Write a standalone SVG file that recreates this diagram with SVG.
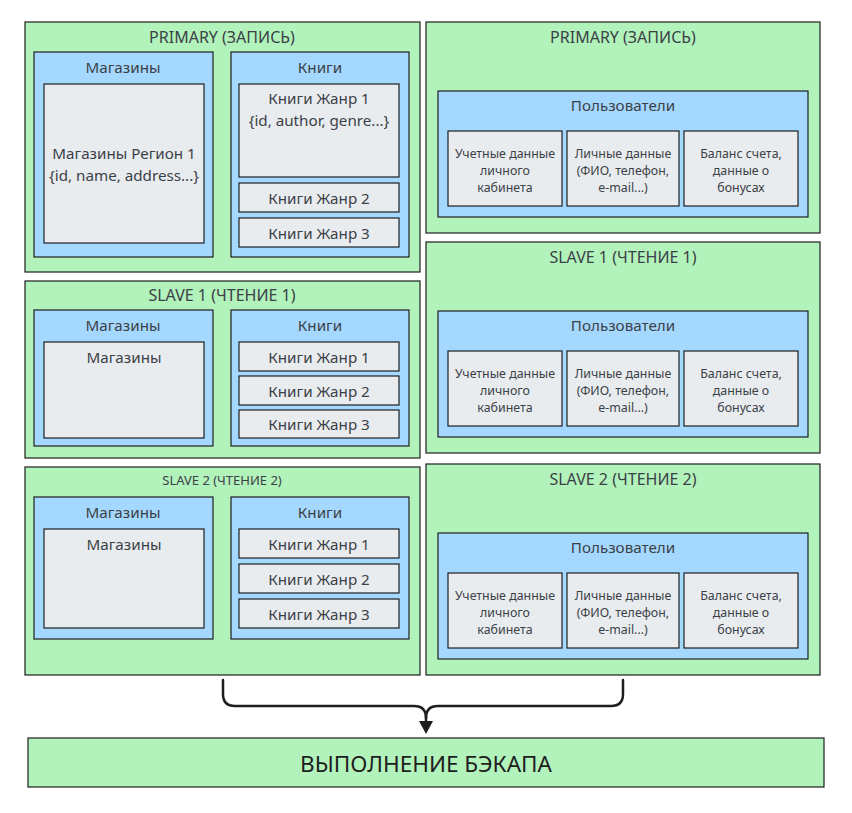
<svg xmlns="http://www.w3.org/2000/svg" width="852" height="813" viewBox="0 0 852 813">
<defs>
<style>
.g{fill:#b2f2bb;stroke:#1e1e1e;stroke-width:1.2}
.b{fill:#a5d8ff;stroke:#1e1e1e;stroke-width:1.2}
.c{fill:#e9ecef;stroke:#1e1e1e;stroke-width:1.2}
text{font-family:"Noto Sans","Open Sans",sans-serif;fill:#3b4147;text-anchor:middle;dominant-baseline:central}
.t16{font-size:16px}
.t14{font-size:15.2px}
.t13{font-size:13px}
.t11{font-size:12.4px}
.t20{font-size:22.5px;fill:#1e1e1e}
.con{fill:none;stroke:#1e1e1e;stroke-width:2.5;stroke-linecap:round;stroke-linejoin:round}
</style>
<marker id="ah" markerWidth="13" markerHeight="14" refX="1" refY="7" orient="auto" markerUnits="userSpaceOnUse" viewBox="0 0 13 14"><path d="M0,0 L13,7 L0,14 Z" fill="#1e1e1e"/></marker>
</defs>
<rect width="852" height="813" fill="#ffffff"/>

<!-- LEFT PRIMARY -->
<g id="left-primary">
<rect class="g" x="25" y="22" width="395" height="250"/>
<text class="t16" x="222" y="37">PRIMARY (ЗАПИСЬ)</text>
<g id="lp-shops">
<rect class="b" x="34" y="52" width="179" height="205"/>
<text class="t14" x="123" y="67">Магазины</text>
<rect class="c" x="44" y="84" width="160" height="159"/>
<text class="t14" x="124" y="153">Магазины Регион 1</text>
<text class="t14" x="124" y="175">{id, name, address...}</text>
</g>
<g id="lp-books">
<rect class="b" x="231" y="52" width="178" height="205"/>
<text class="t14" x="320" y="67">Книги</text>
<rect class="c" x="239" y="84" width="160" height="93"/>
<text class="t14" x="319" y="98">Книги Жанр 1</text>
<text class="t14" x="319" y="120">{id, author, genre...}</text>
<rect class="c" x="239" y="183" width="160" height="29"/>
<text class="t14" x="319" y="197.5">Книги Жанр 2</text>
<rect class="c" x="239" y="218" width="160" height="29"/>
<text class="t14" x="319" y="232.5">Книги Жанр 3</text>
</g>
</g>

<!-- LEFT SLAVE 1 -->
<g id="left-slave1">
<rect class="g" x="25" y="281" width="395" height="177"/>
<text class="t16" x="222" y="295">SLAVE 1 (ЧТЕНИЕ 1)</text>
<g id="ls1-shops">
<rect class="b" x="34" y="310" width="179" height="136"/>
<text class="t14" x="123" y="325">Магазины</text>
<rect class="c" x="44" y="342" width="160" height="96"/>
<text class="t14" x="124" y="357">Магазины</text>
</g>
<g id="ls1-books">
<rect class="b" x="231" y="310" width="178" height="136"/>
<text class="t14" x="320" y="325">Книги</text>
<rect class="c" x="239" y="342" width="160" height="29"/>
<text class="t14" x="319" y="356.5">Книги Жанр 1</text>
<rect class="c" x="239" y="376" width="160" height="29"/>
<text class="t14" x="319" y="390.5">Книги Жанр 2</text>
<rect class="c" x="239" y="410" width="160" height="28"/>
<text class="t14" x="319" y="424">Книги Жанр 3</text>
</g>
</g>

<!-- LEFT SLAVE 2 -->
<g id="left-slave2">
<rect class="g" x="25" y="467" width="395" height="208"/>
<text class="t13" x="222" y="480">SLAVE 2 (ЧТЕНИЕ 2)</text>
<g id="ls2-shops">
<rect class="b" x="34" y="497" width="179" height="142"/>
<text class="t14" x="123" y="512">Магазины</text>
<rect class="c" x="44" y="529" width="160" height="99"/>
<text class="t14" x="124" y="544">Магазины</text>
</g>
<g id="ls2-books">
<rect class="b" x="231" y="497" width="178" height="142"/>
<text class="t14" x="320" y="512">Книги</text>
<rect class="c" x="239" y="529" width="160" height="29"/>
<text class="t14" x="319" y="543.5">Книги Жанр 1</text>
<rect class="c" x="239" y="564" width="160" height="29"/>
<text class="t14" x="319" y="578.5">Книги Жанр 2</text>
<rect class="c" x="239" y="599" width="160" height="29"/>
<text class="t14" x="319" y="613.5">Книги Жанр 3</text>
</g>
</g>

<!-- RIGHT PRIMARY -->
<g id="right-primary">
<rect class="g" x="426" y="22" width="394" height="211"/>
<text class="t16" x="623" y="37">PRIMARY (ЗАПИСЬ)</text>
<g id="rp-users">
<rect class="b" x="438" y="91" width="370" height="126"/>
<text class="t14" x="623" y="105">Пользователи</text>
<rect class="c" x="448" y="131" width="114" height="75"/>
<text class="t11" x="505" y="153">Учетные данные</text>
<text class="t11" x="505" y="170">личного</text>
<text class="t11" x="505" y="187">кабинета</text>
<rect class="c" x="567" y="131" width="112" height="75"/>
<text class="t11" x="623" y="153">Личные данные</text>
<text class="t11" x="623" y="170">(ФИО, телефон,</text>
<text class="t11" x="623" y="187">e-mail...)</text>
<rect class="c" x="684" y="131" width="114" height="75"/>
<text class="t11" x="741" y="153">Баланс счета,</text>
<text class="t11" x="741" y="170">данные о</text>
<text class="t11" x="741" y="187">бонусах</text>
</g>
</g>

<!-- RIGHT SLAVE 1 -->
<g id="right-slave1">
<rect class="g" x="426" y="242" width="394" height="211"/>
<text class="t16" x="623" y="257">SLAVE 1 (ЧТЕНИЕ 1)</text>
<g id="rs1-users">
<rect class="b" x="438" y="311" width="370" height="126"/>
<text class="t14" x="623" y="325">Пользователи</text>
<rect class="c" x="448" y="351" width="114" height="75"/>
<text class="t11" x="505" y="373">Учетные данные</text>
<text class="t11" x="505" y="390">личного</text>
<text class="t11" x="505" y="407">кабинета</text>
<rect class="c" x="567" y="351" width="112" height="75"/>
<text class="t11" x="623" y="373">Личные данные</text>
<text class="t11" x="623" y="390">(ФИО, телефон,</text>
<text class="t11" x="623" y="407">e-mail...)</text>
<rect class="c" x="684" y="351" width="114" height="75"/>
<text class="t11" x="741" y="373">Баланс счета,</text>
<text class="t11" x="741" y="390">данные о</text>
<text class="t11" x="741" y="407">бонусах</text>
</g>
</g>

<!-- RIGHT SLAVE 2 -->
<g id="right-slave2">
<rect class="g" x="426" y="464" width="394" height="211"/>
<text class="t16" x="623" y="479">SLAVE 2 (ЧТЕНИЕ 2)</text>
<g id="rs2-users">
<rect class="b" x="438" y="533" width="370" height="126"/>
<text class="t14" x="623" y="547">Пользователи</text>
<rect class="c" x="448" y="573" width="114" height="75"/>
<text class="t11" x="505" y="595">Учетные данные</text>
<text class="t11" x="505" y="612">личного</text>
<text class="t11" x="505" y="629">кабинета</text>
<rect class="c" x="567" y="573" width="112" height="75"/>
<text class="t11" x="623" y="595">Личные данные</text>
<text class="t11" x="623" y="612">(ФИО, телефон,</text>
<text class="t11" x="623" y="629">e-mail...)</text>
<rect class="c" x="684" y="573" width="114" height="75"/>
<text class="t11" x="741" y="595">Баланс счета,</text>
<text class="t11" x="741" y="612">данные о</text>
<text class="t11" x="741" y="629">бонусах</text>
</g>
</g>

<!-- BACKUP -->
<g id="backup">
<rect class="g" x="28" y="738" width="796" height="49"/>
<text class="t20" x="426" y="763">ВЫПОЛНЕНИЕ БЭКАПА</text>
</g>

<!-- CONNECTORS -->
<g id="connectors">
<path class="con" d="M223,680 V694 Q223,706 235,706 H414 Q426,706 426,718"/>
<path class="con" d="M623,680 V694 Q623,706 611,706 H438 Q426,706 426,718 V722" marker-end="url(#ah)"/>
</g>
</svg>
